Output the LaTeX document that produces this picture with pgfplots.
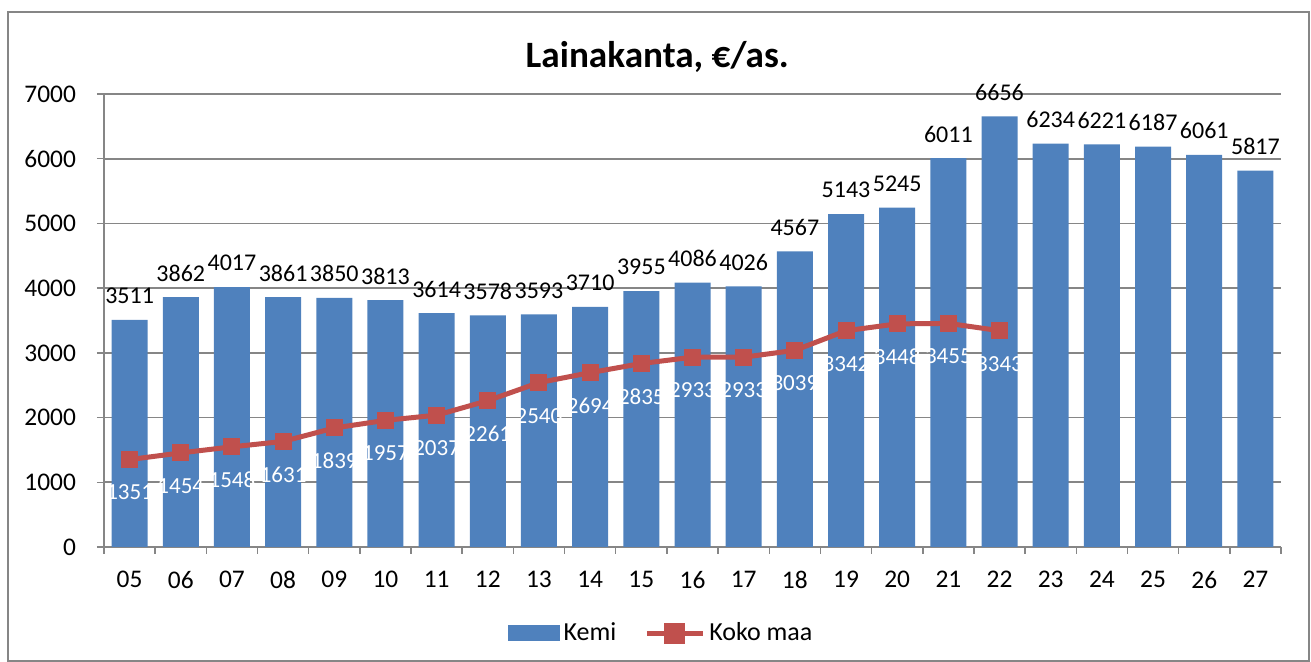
\documentclass[border=0pt]{standalone}
\usepackage{pgfplots}
\pgfplotsset{compat=1.18}
\usepackage{pgfplotstable}
\usepackage{fontspec}
\setmainfont{Carlito}
\definecolor{kemiblue}{HTML}{4F81BD}
\definecolor{kokored}{HTML}{C0504D}
\definecolor{gridgrey}{HTML}{868686}

\pgfplotsset{
  kemileg/.style={legend image code/.code={\fill[kemiblue] (0pt,-4pt) rectangle (26pt,4pt);}},
  kokoleg/.style={legend image code/.code={%
    \draw[kokored, line width=2.5pt] (0pt,0pt) -- (28pt,0pt);
    \fill[kokored] (10pt,-4pt) rectangle (18pt,4pt);}},
}

% Kemi, lainakanta euroa/asukas
\pgfplotstableread{
x kemi
0 3511
1 3862
2 4017
3 3861
4 3850
5 3813
6 3614
7 3578
8 3593
9 3710
10 3955
11 4086
12 4026
13 4567
14 5143
15 5245
16 6011
17 6656
18 6234
19 6221
20 6187
21 6061
22 5817
}\kemi

% Koko maa
\pgfplotstableread{
x koko
0 1351
1 1454
2 1548
3 1631
4 1839
5 1957
6 2037
7 2261
8 2540
9 2694
10 2835
11 2933
12 2933
13 3039
14 3342
15 3448
16 3455
17 3343
}\koko

\begin{document}
\begin{tikzpicture}
\begin{axis}[
    name=main,
    scale only axis,
    width=588.5pt, height=226.5pt,
    xmin=-0.5, xmax=22.5,
    ymin=0, ymax=7000,
    clip=false,
    ytick={0,1000,...,7000},
    xtick={0,...,22},
    xticklabels={05,06,07,08,09,10,11,12,13,14,15,16,17,18,19,20,21,22,23,24,25,26,27},
    minor xtick={-0.5,0.5,...,22.5},
    axis x line*=bottom, axis y line*=left,
    axis line style={gridgrey, line width=0.75pt, -},
    ymajorgrids,
    major grid style={gridgrey, line width=0.8pt},
    tick align=outside,
    major tick length=3.5pt, minor tick length=3.5pt,
    every tick/.append style={gridgrey, line width=0.75pt},
    major x tick style={draw=none},
    tick label style={font=\fontsize{12.7}{13}\selectfont, black},
    yticklabel style={xshift=-7pt},
    xticklabel style={yshift=-5pt},
    /pgf/number format/assume math mode=true,
    /pgf/number format/1000 sep={},
    legend columns=-1,
    legend style={draw=none, at={(0.474,-0.19)}, anchor=center,
      font=\fontsize{13}{13}\selectfont,
      /tikz/every even column/.append style={column sep=12pt}},
]
\addplot[ybar, bar width=18pt, fill=kemiblue, draw=none,
    nodes near coords,
    every node near coord/.append style={font=\fontsize{12}{12}\selectfont, black, anchor=center, yshift=12pt},
    kemileg]
    table[x=x, y=kemi] {\kemi};
\addlegendentry{Kemi}
\addplot[kokored, line width=2.5pt, mark=square*, mark size=4pt,
    mark options={solid, line width=0.5pt, fill=kokored},
    nodes near coords,
    every node near coord/.append style={font=\fontsize{11.5}{12}\selectfont, white, anchor=center, yshift=-16.5pt},
    kokoleg]
    table[x=x, y=koko] {\koko};
\addlegendentry{Koko maa}
\node[font=\fontsize{18.6}{19}\selectfont\bfseries] at (rel axis cs:0.47,1) [yshift=18.5pt] {Lainakanta, €/as.};
\end{axis}
\path ([xshift=-52pt,yshift=-57.5pt]main.south west) rectangle ([xshift=15pt,yshift=47pt]main.north east);
\draw[gridgrey, line width=0.75pt] ([xshift=-48pt,yshift=-57pt]main.south west) rectangle ([xshift=14pt,yshift=41pt]main.north east);
\end{tikzpicture}
\end{document}
